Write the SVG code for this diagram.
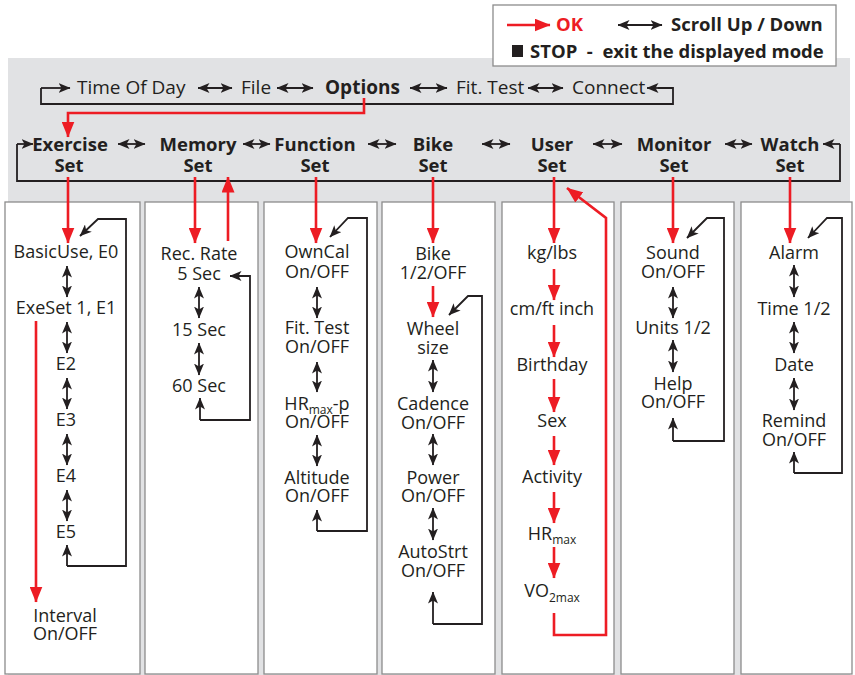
<svg xmlns="http://www.w3.org/2000/svg" width="855" height="675" viewBox="0 0 855 675">
<style>
text{font-family:"Open Sans","Noto Sans","Liberation Sans",sans-serif;fill:#231f20}
.t1{font-size:19px}
.hd{font-size:18.5px;font-weight:bold;text-anchor:middle}
.it{font-size:18px;text-anchor:middle}
.lg{font-size:18.5px;font-weight:bold}
.sub{font-size:12px}
.panel{fill:#fff;stroke:#8c8c8c;stroke-width:1.3}
.bk{fill:none;stroke:#231f20;stroke-width:1.8}
.bka{fill:none;stroke:#231f20;stroke-width:1.8;marker-end:url(#hb)}
.dbl{fill:none;stroke:#231f20;stroke-width:1.8;marker-start:url(#hb);marker-end:url(#hb)}
.rd{fill:none;stroke:#ed1c24;stroke-width:2.6;marker-end:url(#hr)}
</style>
<defs>
<marker id="hb" markerUnits="userSpaceOnUse" viewBox="0 0 12 10" markerWidth="12" markerHeight="10" refX="11.5" refY="5" orient="auto-start-reverse"><path d="M0,0 L12,5 L0,10 L3,5 z" fill="#231f20"/></marker>
<marker id="hr" markerUnits="userSpaceOnUse" viewBox="0 0 16 13" markerWidth="16" markerHeight="13" refX="15.5" refY="6.5" orient="auto"><path d="M0,0 L16,6.5 L0,13 z" fill="#ed1c24"/></marker>
</defs>
<rect x="8" y="58" width="842" height="617" fill="#e1e2e4"/>
<g id="legend">
<rect x="493" y="5" width="343" height="61" fill="#fff" stroke="#8c8c8c" stroke-width="1.3"/>
<path d="M507,25 H550" class="rd"/>
<text x="556" y="31" class="lg" style="fill:#ed1c24">OK</text>
<path d="M618,25 H662" class="dbl"/>
<text x="671" y="31" class="lg">Scroll Up / Down</text>
<rect x="512" y="45" width="11" height="12" fill="#231f20"/>
<text x="530" y="58" class="lg" xml:space="preserve">STOP  -  exit the displayed mode</text>
</g>
<g id="top-menu">
<text x="77" y="94" class="t1">Time Of Day</text>
<text x="241" y="94" class="t1">File</text>
<text x="325" y="94" class="t1" font-weight="bold">Options</text>
<text x="456" y="94" class="t1">Fit. Test</text>
<text x="572" y="94" class="t1">Connect</text>
</g>
<g id="exercise-set"><text x="70" y="151" class="hd">Exercise<tspan x="69" dy="21">Set</tspan></text></g>
<g id="memory-set"><text x="198" y="151" class="hd">Memory<tspan x="198" dy="21">Set</tspan></text></g>
<g id="function-set"><text x="315" y="151" class="hd">Function<tspan x="315" dy="21">Set</tspan></text></g>
<g id="bike-set"><text x="433" y="151" class="hd">Bike<tspan x="433" dy="21">Set</tspan></text></g>
<g id="user-set"><text x="552" y="151" class="hd">User<tspan x="552" dy="21">Set</tspan></text></g>
<g id="monitor-set"><text x="674" y="151" class="hd">Monitor<tspan x="674" dy="21">Set</tspan></text></g>
<g id="watch-set"><text x="790" y="151" class="hd">Watch<tspan x="790" dy="21">Set</tspan></text></g>
<g id="panels">
<rect x="5" y="202" width="135" height="472" class="panel"/>
<rect x="145" y="202" width="113" height="472" class="panel"/>
<rect x="264" y="202" width="113" height="472" class="panel"/>
<rect x="382" y="202" width="113" height="472" class="panel"/>
<rect x="502" y="202" width="112" height="472" class="panel"/>
<rect x="621" y="202" width="113" height="472" class="panel"/>
<rect x="741" y="202" width="111" height="472" class="panel"/>
</g>
<g id="exercise-items">
<text x="66" y="258" class="it">BasicUse, E0</text>
<text x="66" y="314" class="it">ExeSet 1, E1</text>
<text x="66" y="370" class="it">E2</text>
<text x="66" y="426" class="it">E3</text>
<text x="66" y="482" class="it">E4</text>
<text x="66" y="538" class="it">E5</text>
<text x="65" y="622" class="it">Interval<tspan x="65" dy="17.5">On/OFF</tspan></text>
</g>
<g id="memory-items">
<text x="199" y="260" class="it">Rec. Rate<tspan x="199" dy="20">5 Sec</tspan></text>
<text x="199" y="336" class="it">15 Sec</text>
<text x="199" y="392" class="it">60 Sec</text>
</g>
<g id="function-items">
<text x="317" y="258" class="it">OwnCal<tspan x="317" dy="19.5">On/OFF</tspan></text>
<text x="317" y="334" class="it">Fit. Test<tspan x="317" dy="19">On/OFF</tspan></text>
<text x="317" y="410" class="it">HR<tspan class="sub" dy="4">max</tspan><tspan dy="-4">-p</tspan><tspan x="317" dy="18">On/OFF</tspan></text>
<text x="317" y="484" class="it">Altitude<tspan x="317" dy="18">On/OFF</tspan></text>
</g>
<g id="bike-items">
<text x="433" y="260" class="it">Bike<tspan x="433" dy="18.5">1/2/OFF</tspan></text>
<text x="433" y="335" class="it">Wheel<tspan x="433" dy="18.5">size</tspan></text>
<text x="433" y="410" class="it">Cadence<tspan x="433" dy="18.5">On/OFF</tspan></text>
<text x="433" y="484" class="it">Power<tspan x="433" dy="18">On/OFF</tspan></text>
<text x="433" y="558" class="it">AutoStrt<tspan x="433" dy="19">On/OFF</tspan></text>
</g>
<g id="user-items">
<text x="552" y="259" class="it">kg/lbs</text>
<text x="552" y="315" class="it">cm/ft inch</text>
<text x="552" y="371" class="it">Birthday</text>
<text x="552" y="427" class="it">Sex</text>
<text x="552" y="483" class="it">Activity</text>
<text x="552" y="540" class="it">HR<tspan class="sub" dy="4">max</tspan></text>
<text x="552" y="597" class="it">VO<tspan class="sub" dy="5">2max</tspan></text>
</g>
<g id="monitor-items">
<text x="673" y="259" class="it">Sound<tspan x="673" dy="19">On/OFF</tspan></text>
<text x="673" y="334" class="it">Units 1/2</text>
<text x="673" y="390" class="it">Help<tspan x="673" dy="18">On/OFF</tspan></text>
</g>
<g id="watch-items">
<text x="794" y="259" class="it">Alarm</text>
<text x="794" y="315" class="it">Time 1/2</text>
<text x="794" y="371" class="it">Date</text>
<text x="794" y="427" class="it">Remind<tspan x="794" dy="19">On/OFF</tspan></text>
</g>
<g id="connectors">
<path d="M41,88 V104 H673 V88 H658" class="bk"/>
<path d="M41,88 H70" class="bka"/>
<path d="M673,88 H647" class="bka"/>
<path d="M198,88 H232" class="dbl"/>
<path d="M277,88 H313" class="dbl"/>
<path d="M410,88 H447" class="dbl"/>
<path d="M528,88 H563" class="dbl"/>
<path d="M17,144 V181 H840 V144" class="bk"/>
<path d="M17,144 H33" class="bka"/>
<path d="M840,144 H823" class="bka"/>
<path d="M118,144 H145" class="dbl"/>
<path d="M243,144 H270" class="dbl"/>
<path d="M368,144 H396" class="dbl"/>
<path d="M482,144 H510" class="dbl"/>
<path d="M593,144 H622" class="dbl"/>
<path d="M725,144 H752" class="dbl"/>
<path d="M364,98 V113 H68 V137" class="rd"/>
<path d="M68,177 V243" class="rd"/>
<path d="M195,177 V243" class="rd"/>
<path d="M228,241 V177" class="rd"/>
<path d="M316,177 V243" class="rd"/>
<path d="M433,177 V243" class="rd"/>
<path d="M433,286 V317" class="rd"/>
<path d="M554,177 V243" class="rd"/>
<path d="M673,177 V243" class="rd"/>
<path d="M790,177 V243" class="rd"/>
<path d="M36,321 V602" class="rd"/>
<path d="M554,269 V300" class="rd"/>
<path d="M554,325 V357" class="rd"/>
<path d="M554,379 V412" class="rd"/>
<path d="M554,436 V465" class="rd"/>
<path d="M554,492 V523" class="rd"/>
<path d="M554,547 V578" class="rd"/>
<path d="M554,613 V635 H606 V218 L567,188" class="rd"/>
<path d="M67,266 V297" class="dbl"/>
<path d="M67,322 V353" class="dbl"/>
<path d="M67,378 V409" class="dbl"/>
<path d="M67,434 V465" class="dbl"/>
<path d="M67,490 V521" class="dbl"/>
<path d="M67,566 H126 V219 H98 L80,236" class="bka"/>
<path d="M67,566 V545" class="bka"/>
<path d="M199,287 V318" class="dbl"/>
<path d="M199,343 V375" class="dbl"/>
<path d="M200,420 H250 V276 H230" class="bka"/>
<path d="M200,420 V398" class="bka"/>
<path d="M317,287 V318" class="dbl"/>
<path d="M317,362 V392" class="dbl"/>
<path d="M317,435 V466" class="dbl"/>
<path d="M317,531 H367 V218 H348 L330,237" class="bka"/>
<path d="M317,531 V510" class="bka"/>
<path d="M433,360 V392" class="dbl"/>
<path d="M433,434 V465" class="dbl"/>
<path d="M433,508 V540" class="dbl"/>
<path d="M433,624 H482 V296 H468 L449,315" class="bka"/>
<path d="M433,624 V592" class="bka"/>
<path d="M673,287 V318" class="dbl"/>
<path d="M673,340 V372" class="dbl"/>
<path d="M673,441 H724 V218 H707 L687,238" class="bka"/>
<path d="M673,441 V418" class="bka"/>
<path d="M794,265 V297" class="dbl"/>
<path d="M794,322 V353" class="dbl"/>
<path d="M794,378 V410" class="dbl"/>
<path d="M794,473 H842 V218 H827 L808,238" class="bka"/>
<path d="M794,473 V452" class="bka"/>
</g>
</svg>
